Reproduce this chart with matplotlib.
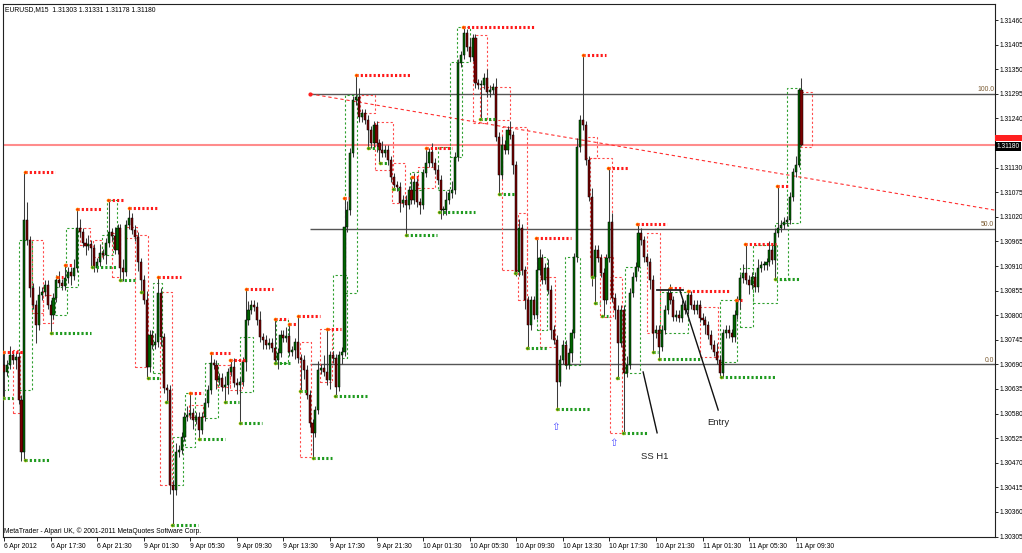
import matplotlib
matplotlib.use('Agg')
import matplotlib.pyplot as plt
from matplotlib.patches import Rectangle
import numpy as np

plt.rcParams['font.family'] = ['Liberation Sans', 'DejaVu Sans']

# ---- data (EURUSD M15) ----
first_open = 1.30689
closes = [
    1.30673, 1.30689, 1.30711, 1.30700, 1.30707, 1.30611, 1.30494, 1.31013, 1.30968, 1.30861, 1.30823, 1.30778, 1.30845, 1.30852, 1.30868, 1.30823, 1.30801, 1.30839, 1.30879, 1.30872, 1.30866, 1.30883, 1.30897, 1.30888, 1.30906,
    1.30995, 1.30986, 1.30962, 1.30955, 1.30959, 1.30950, 1.30906, 1.30919, 1.30939, 1.30935, 1.30962, 1.30986, 1.30977, 1.30946, 1.30995, 1.30906, 1.30897, 1.31002, 1.31018, 1.30991, 1.30975, 1.30919, 1.30879, 1.30834, 1.30684,
    1.30756, 1.30734, 1.30740, 1.30850, 1.30751, 1.30637, 1.30633, 1.30421, 1.30409, 1.30494, 1.30499, 1.30528, 1.30573, 1.30577, 1.30582, 1.30566, 1.30573, 1.30544, 1.30573, 1.30604, 1.30633, 1.30693, 1.30689, 1.30655, 1.30660,
    1.30640, 1.30644, 1.30673, 1.30684, 1.30649, 1.30644, 1.30651, 1.30696, 1.30789, 1.30812, 1.30823, 1.30819, 1.30789, 1.30751, 1.30745, 1.30734, 1.30738, 1.30727, 1.30700, 1.30716, 1.30756, 1.30749, 1.30754, 1.30718, 1.30722,
    1.30740, 1.30704, 1.30700, 1.30678, 1.30622, 1.30559, 1.30537, 1.30588, 1.30678, 1.30682, 1.30673, 1.30655, 1.30711, 1.30704, 1.30640, 1.30711, 1.30718, 1.30997, 1.31035, 1.31163, 1.31281, 1.31288, 1.31243, 1.31252, 1.31237,
    1.31214, 1.31185, 1.31225, 1.31185, 1.31170, 1.31163, 1.31170, 1.31147, 1.31109, 1.31091, 1.31087, 1.31051, 1.31058, 1.31047, 1.31080, 1.31058, 1.31098, 1.31053, 1.31047, 1.31118, 1.31141, 1.31165, 1.31141, 1.31125, 1.31103,
    1.31035, 1.31035, 1.31058, 1.31073, 1.31080, 1.31154, 1.31364, 1.31382, 1.31431, 1.31400, 1.31378, 1.31420, 1.31319, 1.31315, 1.31315, 1.31331, 1.31299, 1.31304, 1.31310, 1.31199, 1.31114, 1.31181, 1.31170, 1.31214, 1.31203,
    1.31136, 1.30897, 1.30995, 1.30901, 1.30834, 1.30778, 1.30834, 1.30801, 1.30901, 1.30928, 1.30879, 1.30906, 1.30857, 1.30767, 1.30745, 1.30651, 1.30700, 1.30734, 1.30689, 1.30716, 1.30760, 1.30930, 1.31176, 1.31237, 1.31225,
    1.31147, 1.31065, 1.30886, 1.30946, 1.30928, 1.30895, 1.30834, 1.30928, 1.31009, 1.30839, 1.30812, 1.30738, 1.30812, 1.30671, 1.30689, 1.30850, 1.30886, 1.30908, 1.30984, 1.30968, 1.30930, 1.30919, 1.30879, 1.30760, 1.30767,
    1.30729, 1.30767, 1.30812, 1.30850, 1.30834, 1.30796, 1.30801, 1.30794, 1.30823, 1.30812, 1.30845, 1.30823, 1.30812, 1.30823, 1.30794, 1.30789, 1.30778, 1.30756, 1.30734, 1.30718, 1.30700, 1.30671, 1.30760, 1.30767, 1.30760,
    1.30751, 1.30801, 1.30834, 1.30883, 1.30895, 1.30879, 1.30868, 1.30886, 1.30863, 1.30906, 1.30912, 1.30912, 1.30919, 1.30946, 1.30924, 1.30984, 1.30995, 1.31002, 1.31009, 1.31013, 1.31065, 1.31120, 1.31136, 1.31303, 1.31180,
]
# wick lengths in pips
wick_up = [
    1, 1, 2, 1, 1, 1, 1, 2, 4, 1, 1, 1, 2, 1, 1, 1, 1, 1, 1, 2, 1, 1, 1, 1, 2,
    1, 2, 1, 1, 2, 1, 1, 1, 2, 1, 1, 1, 1, 2, 1, 1, 2, 1, 2, 1, 1, 1, 1, 1, 2,
    1, 1, 2, 1, 1, 1, 1, 1, 1, 2, 1, 1, 1, 2, 1, 1, 1, 1, 1, 1, 1, 2, 1, 1, 1,
    1, 2, 1, 1, 2, 1, 1, 1, 1, 2, 1, 1, 1, 2, 1, 1, 1, 1, 2, 1, 1, 1, 2, 1, 1,
    1, 1, 1, 1, 1, 1, 1, 1, 2, 1, 3, 1, 1, 1, 1, 1, 1, 1, 2, 1, 1, 1, 2, 1, 1,
    1, 1, 1, 1, 1, 2, 1, 1, 1, 1, 1, 1, 1, 1, 1, 1, 2, 1, 1, 1, 1, 1, 2, 1, 1,
    1, 1, 2, 1, 2, 1, 1, 1, 1, 1, 2, 1, 1, 1, 1, 1, 2, 1, 1, 2, 1, 2, 1, 1, 2,
    1, 1, 2, 1, 1, 1, 1, 1, 1, 2, 1, 1, 2, 1, 1, 1, 1, 1, 1, 1, 1, 1, 2, 1, 1,
    1, 1, 2, 1, 1, 1, 1, 1, 1, 2, 1, 1, 1, 1, 2, 1, 1, 1, 1, 1, 1, 1, 1, 1, 1,
    1, 1, 1, 1, 2, 1, 1, 1, 1, 1, 1, 1, 1, 1, 1, 1, 1, 1, 1, 1, 2, 1, 1, 1, 1,
    1, 1, 1, 1, 2, 1, 1, 1, 1, 2, 1, 1, 1, 2, 1, 1, 1, 1, 1, 1, 1, 1, 2, 0.5, 2.8,
]
wick_dn = [
    1, 1, 1, 1, 2, 1, 2, 1, 1, 2, 1, 4, 1, 1, 1, 1, 4, 1, 1, 1, 1, 1, 1, 2, 1,
    1, 1, 1, 2, 1, 1, 1, 1, 1, 1, 2, 1, 1, 1, 1, 1, 2, 1, 1, 1, 1, 2, 1, 1, 2,
    1, 1, 1, 1, 2, 1, 1, 2, 2, 1, 1, 1, 1, 1, 1, 2, 1, 2, 1, 1, 1, 1, 1, 2, 1,
    1, 1, 2, 1, 1, 2, 1, 1, 2, 1, 1, 1, 1, 1, 2, 1, 1, 1, 1, 2, 1, 1, 1, 1, 1,
    2, 1, 1, 2, 1, 1, 3, 1, 1, 1, 1, 1, 2, 1, 1, 1, 2, 1, 1, 1, 1, 1, 1, 1, 1,
    1, 1, 1, 2, 1, 1, 1, 1, 1, 1, 1, 2, 1, 1, 1, 1, 1, 1, 2, 1, 1, 1, 1, 1, 1,
    2, 1, 1, 1, 1, 1, 1, 1, 1, 1, 1, 1, 1, 1, 1, 1, 1, 1, 1, 1, 2, 1, 1, 1, 1,
    2, 1, 1, 1, 2, 1, 1, 1, 1, 1, 1, 1, 1, 2, 1, 1, 1, 1, 1, 1, 2, 1, 1, 1, 1,
    1, 1, 2, 1, 1, 1, 2, 1, 1, 1, 2, 1, 1, 1, 1, 1, 1, 1, 1, 1, 1, 1, 2, 1, 1,
    1, 1, 1, 1, 1, 1, 1, 1, 1, 1, 1, 1, 1, 1, 1, 1, 2, 1, 1, 1, 1, 1, 1, 1, 1,
    1, 1, 1, 2, 1, 1, 2, 1, 1, 1, 1, 1, 1, 1, 1, 1, 1, 1, 1, 1, 1, 1, 1, 0.5, 0.2,
]

# fractal levels (start bar, end bar, price)
res_levels = [(-0.3, 6.5, 1.30718), (7.2, 17.5, 1.31120), (18.2, 20.3, 1.30886), (21.0, 23.7, 1.30912),
              (25.1, 33.7, 1.31038), (35.7, 40.9, 1.31058), (43.0, 52.6, 1.31040), (52.9, 60.8, 1.30886),
              (63.9, 68.4, 1.30626), (71.1, 77.7, 1.30716), (77.7, 82.8, 1.30700), (83.2, 92.4, 1.30859),
              (93.1, 97.6, 1.30792), (97.9, 100.7, 1.30780), (101.0, 108.6, 1.30798), (111.0, 115.8, 1.30769),
              (116.8, 118.6, 1.31062), (121.0, 139.5, 1.31337), (140.2, 142.3, 1.31109), (145.0, 154.0, 1.31174),
              (157.7, 182.5, 1.31445), (182.8, 194.8, 1.30973), (199.0, 206.9, 1.31382), (207.6, 214.4, 1.31129),
              (217.6, 227.8, 1.31004), (228.9, 233.3, 1.30861), (235.0, 249.5, 1.30854), (251.5, 253.6, 1.30834),
              (254.6, 265.3, 1.30959), (265.6, 269.8, 1.31089)]
sup_levels = [(-0.3, 3.1, 1.30615), (7.2, 15.8, 1.30476), (16.2, 29.9, 1.30760), (30.2, 38.8, 1.30908),
              (39.9, 45.0, 1.30879), (47.0, 48.5, 1.30852), (49.4, 53.6, 1.30660), (55.5, 56.5, 1.30606),
              (57.6, 66.7, 1.30331), (67.0, 75.9, 1.30523), (75.9, 80.8, 1.30606), (81.1, 88.7, 1.30559),
              (93.1, 99.0, 1.30693), (101.7, 104.5, 1.30631), (106.2, 112.7, 1.30481), (113.7, 124.7, 1.30620),
              (125.1, 128.5, 1.31174), (129.2, 131.6, 1.31141), (133.7, 136.1, 1.31082), (138.1, 148.8, 1.30980),
              (149.6, 161.9, 1.31031), (163.6, 168.7, 1.31239), (170.1, 175.6, 1.31071), (175.6, 177.3, 1.30895),
              (179.7, 186.6, 1.30727), (190.0, 201.4, 1.30590), (202.1, 203.1, 1.30886), (203.1, 204.8, 1.30828),
              (205.6, 207.6, 1.30798), (210.6, 211.5, 1.30660), (212.6, 221.3, 1.30537), (223.0, 224.7, 1.30718),
              (225.1, 239.9, 1.30702), (246.3, 265.0, 1.30662), (265.0, 273.5, 1.30881)]

# swing boxes (start bar, end bar, low, high)
red_boxes = [(3.1, 5.5, 1.30582, 1.30722), (9.6, 13.4, 1.30805, 1.30968), (13.4, 16.8, 1.30783, 1.30845),
             (26.1, 29.6, 1.30957, 1.30995), (30.6, 33.7, 1.30930, 1.30968), (37.1, 39.9, 1.30886, 1.30984),
             (41.6, 45.7, 1.30973, 1.30997), (45.0, 49.5, 1.30684, 1.30980), (53.6, 57.7, 1.30421, 1.30852),
             (63.6, 68.4, 1.30573, 1.30599), (73.2, 77.7, 1.30640, 1.30689), (77.7, 81.8, 1.30633, 1.30700),
             (101.7, 105.5, 1.30483, 1.30740), (108.6, 112.7, 1.30650, 1.30769),
             (122.3, 127.5, 1.31252, 1.31293), (127.5, 133.7, 1.31125, 1.31232), (133.3, 137.8, 1.31051, 1.31141),
             (142.3, 148.1, 1.31085, 1.31132), (161.2, 166.0, 1.31230, 1.31427), (163.6, 173.9, 1.31237, 1.31310),
             (171.1, 179.7, 1.30901, 1.31221), (176.6, 179.7, 1.30834, 1.31029), (184.2, 189.3, 1.30729, 1.30886),
             (199.7, 203.8, 1.31152, 1.31199), (201.4, 208.9, 1.30930, 1.31152), (204.8, 209.3, 1.30796, 1.30930),
             (208.2, 212.4, 1.30537, 1.30886), (221.0, 225.4, 1.30760, 1.30984), (239.2, 245.4, 1.30707, 1.30819),
             (273.5, 277.7, 1.31176, 1.31299)]
green_boxes = [(-0.3, 1.4, 1.30633, 1.30693), (5.2, 9.6, 1.30633, 1.30968), (17.5, 21.6, 1.30801, 1.30863),
               (21.3, 25.4, 1.30863, 1.30995), (33.7, 37.5, 1.30935, 1.30980), (35.4, 38.8, 1.30980, 1.31058),
               (51.2, 54.3, 1.30671, 1.30872), (58.1, 61.5, 1.30421, 1.30528), (62.2, 65.6, 1.30505, 1.30626),
               (69.1, 73.5, 1.30570, 1.30693), (81.1, 85.6, 1.30628, 1.30751), (93.5, 97.5, 1.30693, 1.30790),
               (113.1, 117.9, 1.30704, 1.30890), (117.2, 121.3, 1.30850, 1.31293),
               (139.5, 144.0, 1.31080, 1.31120), (149.1, 153.3, 1.31080, 1.31176), (153.3, 157.4, 1.31154, 1.31366),
               (155.7, 160.1, 1.31366, 1.31445), (183.2, 186.6, 1.30767, 1.30930), (192.8, 197.9, 1.30689, 1.30930),
               (213.4, 218.6, 1.30671, 1.30908), (225.4, 235.0, 1.30760, 1.30852), (246.1, 251.9, 1.30696, 1.30834),
               (252.9, 257.4, 1.30774, 1.30906), (257.4, 265.6, 1.30828, 1.30957), (265.0, 269.4, 1.30879, 1.31006),
               (269.1, 273.5, 1.31006, 1.31308)]

fib_start = 105.2
fib_levels = [1.31295, 1.30993, 1.30690]
fib_names = ['100.0', '50.0', '0.0']
trend_x = [105.2, 340.5]
trend_y = [1.31295, 1.31035]
bid = 1.31180
ask = 1.31193

entry_flat = ([224.4, 233.3], [1.30857, 1.30857])
entry_line = ([232.3, 245.4], [1.30854, 1.30588])
entry_text = (245.4, 1.30559)
ss_line = ([219.6, 224.4], [1.30673, 1.30537])
ss_text = (223.4, 1.30485)
arrow_pts = [(189.7, 1.30550), (209.3, 1.30514)]

price_ticks = [1.30305, 1.30360, 1.30415, 1.30470, 1.30525, 1.30580, 1.30635, 1.30690, 1.30745, 1.30800, 1.30855,
               1.30910, 1.30965, 1.31020, 1.31075, 1.31130, 1.31185, 1.31240, 1.31295, 1.31350, 1.31405, 1.31460]
time_ticks = [0, 16, 32, 48, 64, 80, 96, 112, 128, 144, 160, 176, 192, 208, 224, 240, 256, 272]
time_labels = ['6 Apr 2012', '6 Apr 17:30', '6 Apr 21:30', '9 Apr 01:30', '9 Apr 05:30', '9 Apr 09:30',
               '9 Apr 13:30', '9 Apr 17:30', '9 Apr 21:30', '10 Apr 01:30', '10 Apr 05:30', '10 Apr 09:30',
               '10 Apr 13:30', '10 Apr 17:30', '10 Apr 21:30', '11 Apr 01:30', '11 Apr 05:30', '11 Apr 09:30']

# ---- build OHLC ----
n = min(len(closes), len(wick_up), len(wick_dn))
c = np.array(closes[:n])
o = np.array([first_open] + closes[:n - 1])
hi = np.maximum(o, c) + np.array(wick_up[:n]) * 1e-4
lo = np.minimum(o, c) - np.array(wick_dn[:n]) * 1e-4
for s, e, p in res_levels:
    b = min(max(int(s + 0.5), 0), n - 1)
    hi[b] = max(hi[b], p)
for s, e, p in sup_levels:
    b = min(max(int(s + 0.5), 0), n - 1)
    lo[b] = min(lo[b], p)

fig = plt.figure(figsize=(10.22, 5.53), dpi=100)
ax = fig.add_axes([3 / 1022, 16 / 553, 992 / 1022, 533 / 553])
ax.set_xlim(-0.35, 340.5)
ax.set_ylim(1.30304, 1.31496)

# swing boxes
for s, e, b0, b1 in red_boxes:
    ax.add_patch(Rectangle((s, b0), e - s, b1 - b0, fill=False, ec='#ff4a4a', lw=0.8,
                           ls=(0, (2, 2)), zorder=2))
for s, e, b0, b1 in green_boxes:
    ax.add_patch(Rectangle((s, b0), e - s, b1 - b0, fill=False, ec='#2fa02f', lw=0.8,
                           ls=(0, (2, 2)), zorder=2))

# fib + trendline + bid
for p, name in zip(fib_levels, fib_names):
    ax.hlines(p, fib_start, 340.5, color='#555555', lw=1.0, zorder=1)
    ax.text(340.2, p + 0.00002, name, ha='right', va='bottom', fontsize=4.9, color='#7a5a30')
ax.axhline(bid, color='#ff8c8c', lw=1.5, zorder=1)
ax.plot(trend_x, trend_y, color='#ff3030', lw=0.8, ls=(0, (3, 2.5)), zorder=2)
ax.plot(trend_x[0], trend_y[0], 'o', color='#ff2020', ms=2, zorder=3)

# candles
x = np.arange(n)
up = c >= o
ax.vlines(x, lo, hi, color='#3a3a3a', lw=0.75, zorder=3)
body = np.maximum(np.abs(c - o), 0.00003)
ax.bar(x, body, bottom=np.minimum(o, c), width=0.72,
       color=np.where(up, '#006400', '#7a0000'), edgecolor='black', linewidth=0.35, zorder=4)

# fractal dotted levels
for s, e, p in res_levels:
    ax.plot([s, e], [p, p], color='#ff1a1a', lw=2.2, ls=(0, (0.7, 0.7)), zorder=5)
    ax.plot(s, p, 'o', color='#ff2a00', ms=2.2, mec='#ffaa00', mew=0.4, zorder=6)
for s, e, p in sup_levels:
    ax.plot([s, e], [p, p], color='#1f9a1f', lw=2.2, ls=(0, (0.7, 0.7)), zorder=5)
    ax.plot(s, p, 'o', color='#1f8a1f', ms=2.2, mec='#c8c800', mew=0.4, zorder=6)

# annotations
ax.plot(*entry_flat, color='#222222', lw=1.3, zorder=7)
ax.plot(*entry_line, color='#111111', lw=1.0, zorder=7)
ax.plot(*ss_line, color='#111111', lw=1.0, zorder=7)
ax.text(*entry_text, 'Entry', ha='center', va='center', fontsize=6.8, color='#222222')
ax.text(*ss_text, 'SS H1', ha='center', va='center', fontsize=6.8, color='#222222')
for ap in arrow_pts:
    ax.text(ap[0], ap[1], '\u21e7', ha='center', va='center', fontsize=7.5, color='#4a4aff',
            family=['DejaVu Sans'])

# axes styling (the 1.31185 label sits under the bid box in the reference)
ax.yaxis.tick_right()
ax.set_yticks(price_ticks)
ax.set_yticklabels(['' if abs(p - bid) < 0.0001 else f'{p:.5f}' for p in price_ticks])
ax.tick_params(axis='y', length=2.5, width=0.6, labelsize=4.8, pad=1.0, colors='black')
ax.set_xticks(time_ticks)
ax.set_xticklabels(time_labels, ha='left')
ax.tick_params(axis='x', length=3, width=0.6, labelsize=4.9, pad=1.0)
for sp in ax.spines.values():
    sp.set_linewidth(0.8)
    sp.set_color('#222222')

title = f'EURUSD,M15  {o[-1]:.5f} {hi[-1]:.5f} {lo[-1]:.5f} {c[-1]:.5f}'
ax.text(0.002, 0.997, title, transform=ax.transAxes, ha='left', va='top', fontsize=4.9)
ax.text(0.001, 0.004, 'MetaTrader - Alpari UK, \u00a9 2001-2011 MetaQuotes Software Corp.',
        transform=ax.transAxes, ha='left', va='bottom', fontsize=4.9)

# price marks on the axis: ask as a red tab peeking above the black bid label
tr = ax.get_yaxis_transform()
ax.add_patch(Rectangle((1.0005, ask - 0.00003), 0.03, 0.00013, transform=tr, fc='#ff2020', ec='none',
                       clip_on=False, zorder=8))
ax.text(1.0015, bid - 0.00003, f'{bid:.5f}', transform=tr, ha='left', va='center', fontsize=4.8,
        color='white', bbox=dict(boxstyle='square,pad=0.15', fc='black', ec='none'), clip_on=False, zorder=9)

fig.savefig('out.png', dpi=100)
